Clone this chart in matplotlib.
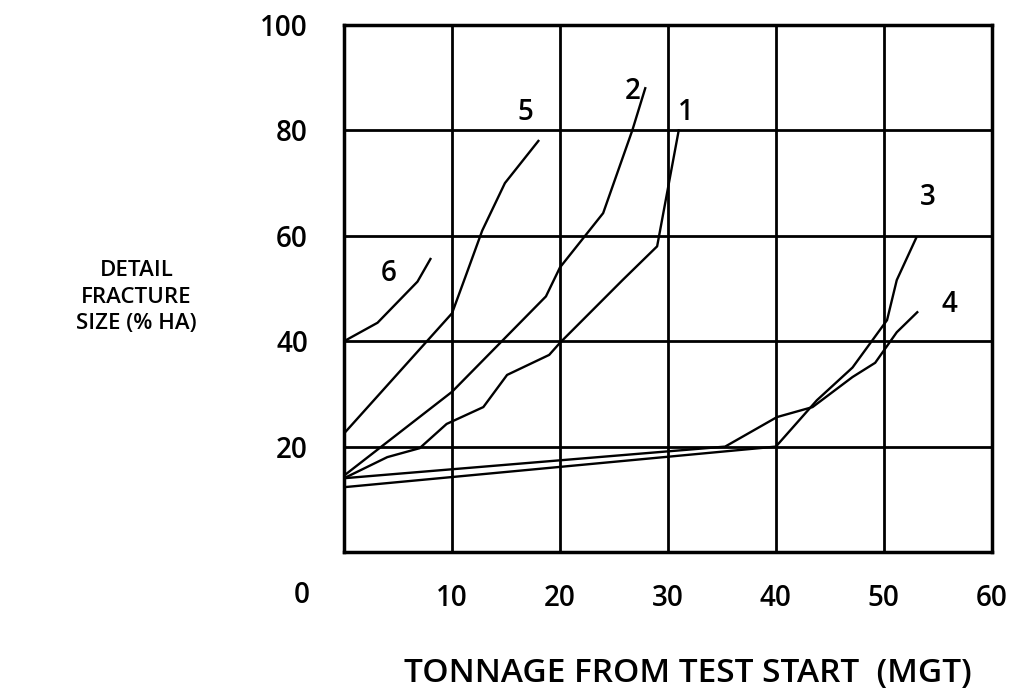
import matplotlib.pyplot as plt

# curves: tonnage (MGT) vs detail fracture size (%HA)
x1 = [0, 4, 7, 9.5, 12.9, 15.1, 19, 20, 25.8, 29, 31]
y1 = [14, 18, 19.7, 24.3, 27.5, 33.6, 37.4, 39.7, 51.6, 58, 80]
x2 = [0, 10, 18.7, 20, 24, 26.7, 27.9]
y2 = [14.5, 30.4, 48.5, 54, 64.3, 80, 88]
x3 = [0, 40, 43.8, 47.1, 50.3, 51.2, 53]
y3 = [12.3, 20, 28.8, 35, 44, 51.6, 59.6]
x4 = [0, 35.3, 40.1, 43.4, 47.1, 49.2, 51.2, 53.1]
y4 = [14, 20, 25.6, 27.5, 33.2, 35.9, 41.7, 45.5]
x5 = [0, 10, 11.2, 12.8, 14.9, 18]
y5 = [22.5, 45.3, 52, 61, 70, 78]
x6 = [0, 3.1, 6.8, 8]
y6 = [40, 43.5, 51.3, 55.6]

curve_labels = ['1', '2', '3', '4', '5', '6']
label_x = [31.7, 26.7, 54.1, 56.1, 16.8, 4.1]
label_y = [83.3, 87.3, 67.2, 46.9, 83.3, 52.9]

x_ticks = [10, 20, 30, 40, 50, 60]
y_ticks = [20, 40, 60, 80, 100]

plt.rcParams['font.family'] = ['Open Sans', 'DejaVu Sans']
plt.rcParams['font.weight'] = 'semibold'

fig = plt.figure(figsize=(10.12, 6.94), dpi=100)
ax = fig.add_axes([0.34, 0.2046, 0.64, 0.7594])

ax.set_xlim(0, 60)
ax.set_ylim(0, 100)
ax.set_xticks(x_ticks)
ax.set_yticks(y_ticks)
ax.tick_params(length=0, labelsize=20)
ax.tick_params(axis='x', pad=23)
ax.tick_params(axis='y', pad=26)
ax.grid(True, color='black', linewidth=2)
for s in ax.spines.values():
    s.set_linewidth(2.5)

for xs, ys in [(x1, y1), (x2, y2), (x3, y3), (x4, y4), (x5, y5), (x6, y6)]:
    ax.plot(xs, ys, color='black', linewidth=1.7)

for lab, lx, ly in zip(curve_labels, label_x, label_y):
    ax.text(lx, ly, lab, fontsize=20, ha='center', va='center')

# the shared zero sits below and left of the corner
ax.text(-3.9, -8.3, '0', fontsize=20, ha='center', va='center')

fig.text(0.135, 0.572, 'DETAIL\nFRACTURE\nSIZE (% HA)', fontsize=16,
         ha='center', va='center', linespacing=1.35)
fig.text(0.68, 0.018, 'TONNAGE FROM TEST START  (MGT)', fontsize=24,
         ha='center', va='baseline')

plt.savefig('out.png')
plt.close()
